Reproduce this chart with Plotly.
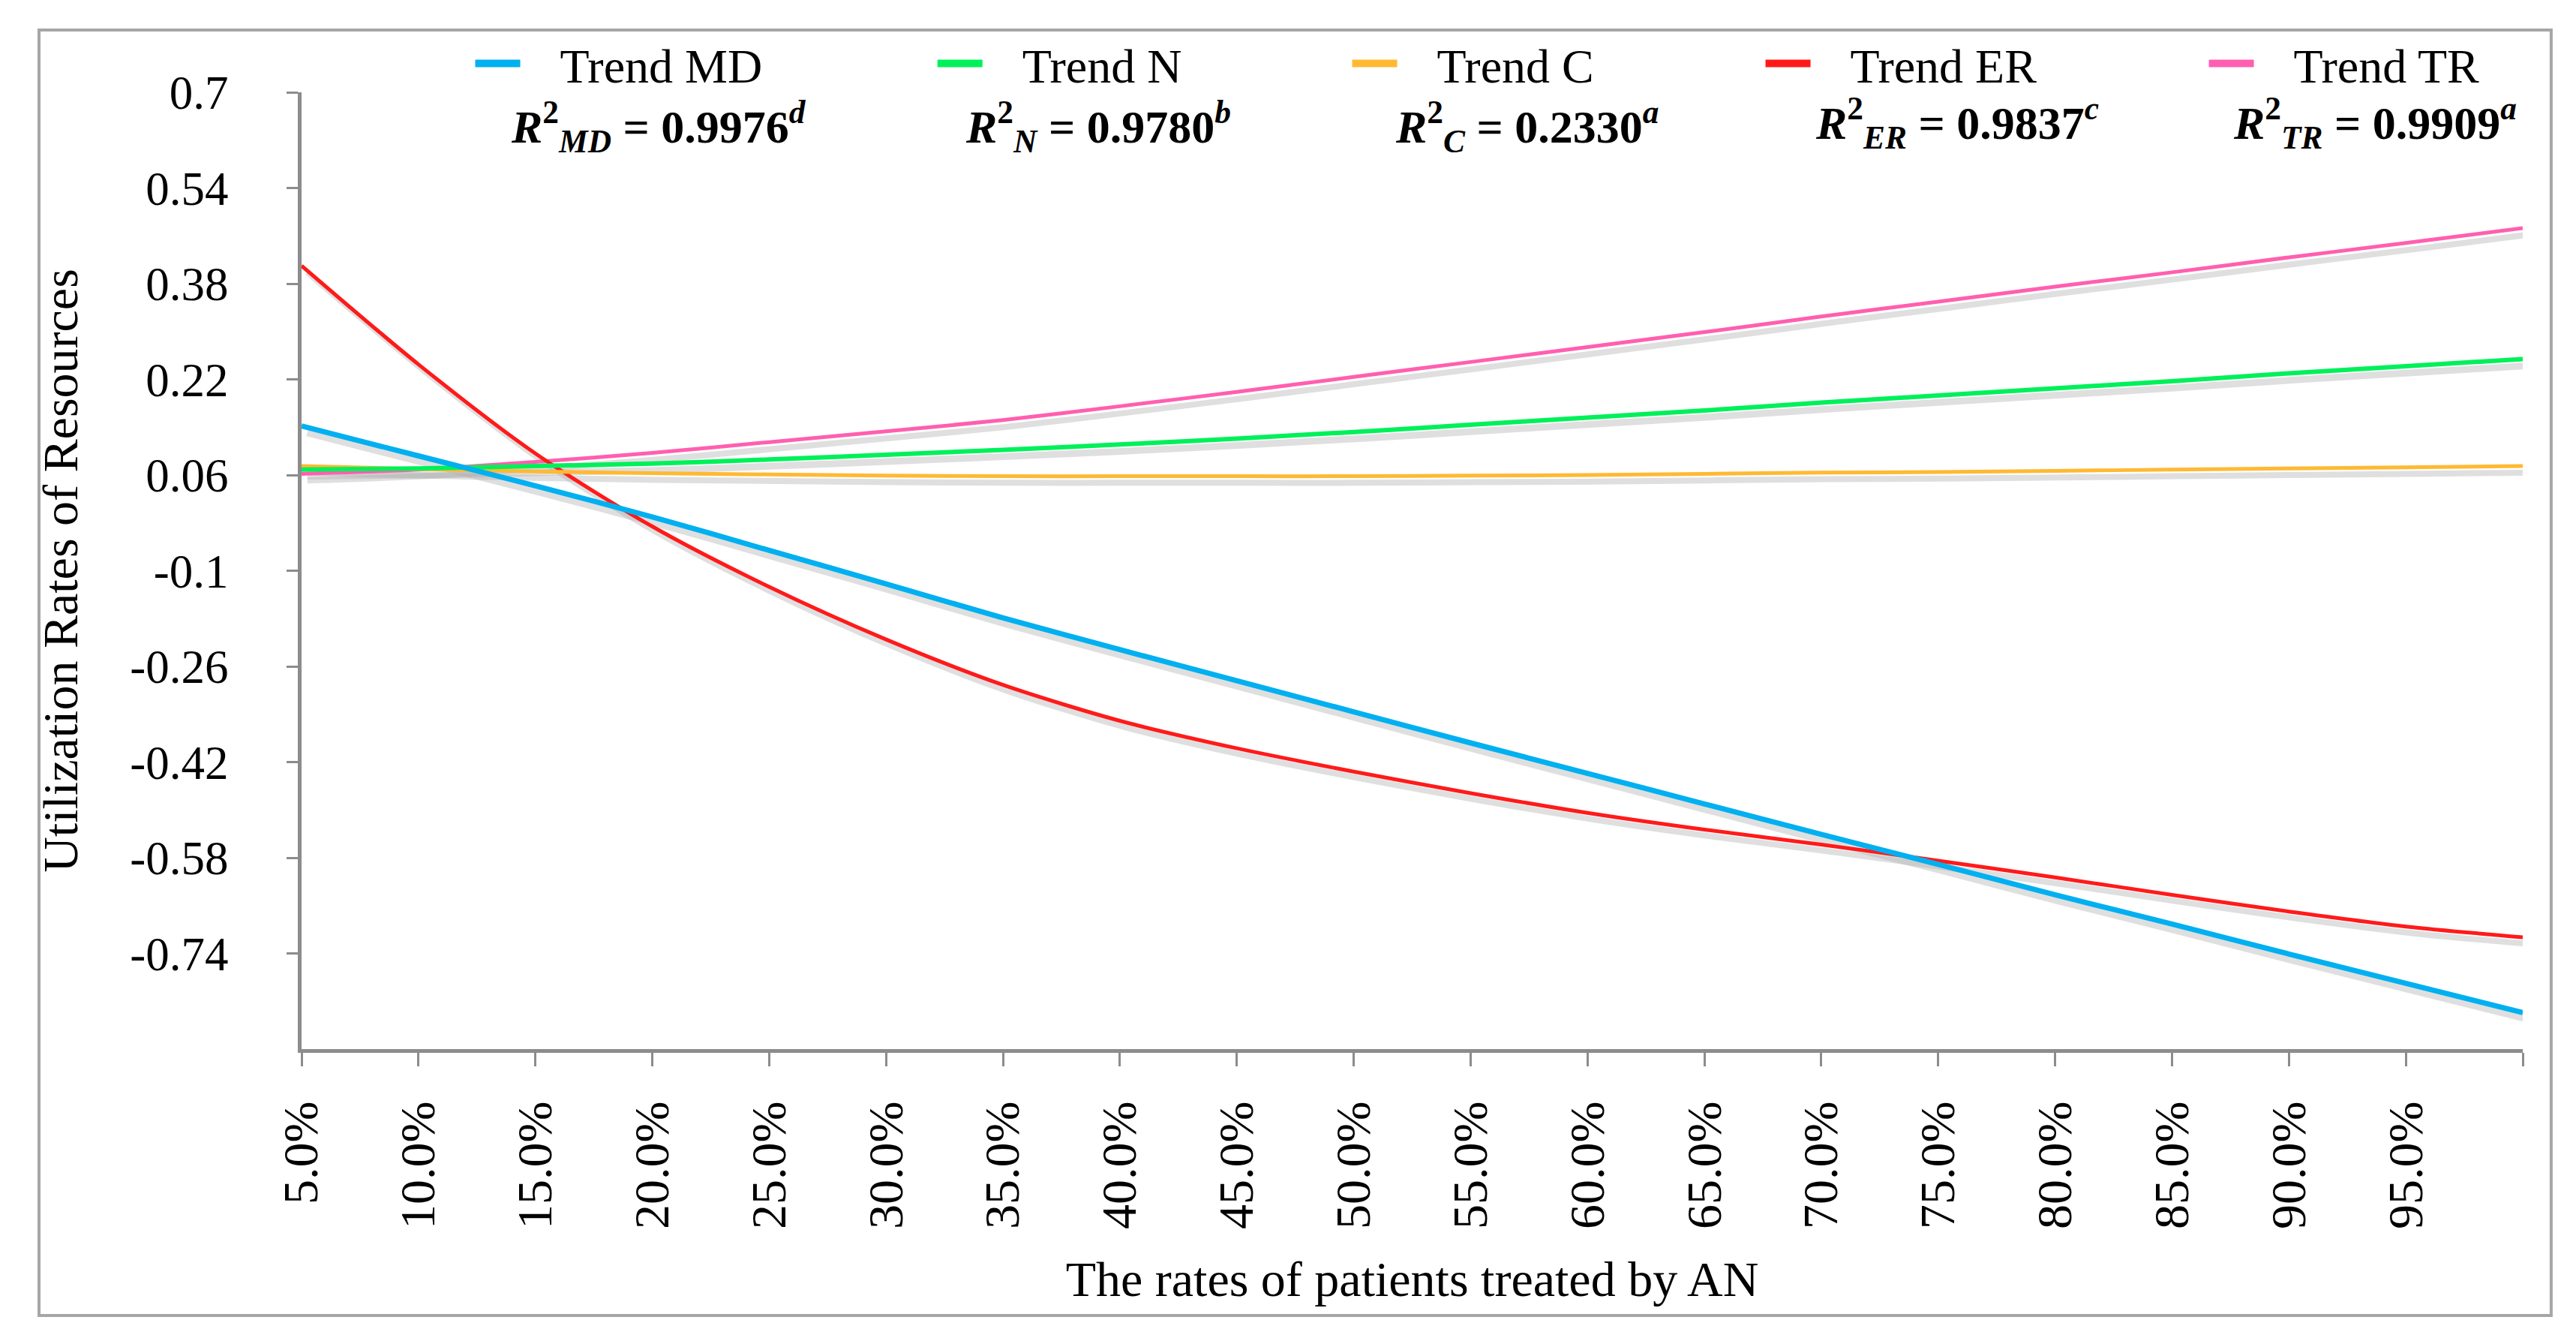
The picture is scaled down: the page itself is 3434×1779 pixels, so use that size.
import plotly.graph_objects as go

# ---------------- data ----------------
rates = [5, 10, 15, 20, 25, 30, 35, 40, 45, 50, 55, 60, 65, 70, 75, 80, 85, 90, 95, 100]
x_tick_labels = ["5.0%", "10.0%", "15.0%", "20.0%", "25.0%", "30.0%", "35.0%", "40.0%",
                 "45.0%", "50.0%", "55.0%", "60.0%", "65.0%", "70.0%", "75.0%", "80.0%",
                 "85.0%", "90.0%", "95.0%", ""]

trend_md = [0.142, 0.092, 0.042, -0.010, -0.066, -0.122, -0.179, -0.232, -0.284, -0.336,
            -0.388, -0.439, -0.490, -0.541, -0.591, -0.642, -0.691, -0.741, -0.790, -0.839]
trend_n = [0.069, 0.071, 0.075, 0.079, 0.086, 0.094, 0.102, 0.111, 0.121, 0.132,
           0.144, 0.156, 0.168, 0.181, 0.193, 0.205, 0.217, 0.230, 0.242, 0.254]
trend_c = [0.075, 0.070, 0.066, 0.063, 0.061, 0.059, 0.058, 0.058, 0.058, 0.058,
           0.059, 0.060, 0.062, 0.064, 0.065, 0.067, 0.069, 0.071, 0.073, 0.075]
trend_er = [0.410, 0.245, 0.096, -0.026, -0.127, -0.215, -0.291, -0.351, -0.397, -0.436,
            -0.472, -0.505, -0.533, -0.558, -0.585, -0.613, -0.642, -0.670, -0.695, -0.713]
trend_tr = [0.062, 0.069, 0.082, 0.097, 0.115, 0.133, 0.152, 0.175, 0.199, 0.224,
            0.249, 0.274, 0.299, 0.325, 0.350, 0.375, 0.399, 0.424, 0.448, 0.473]

y_tick_values = [0.7, 0.54, 0.38, 0.22, 0.06, -0.1, -0.26, -0.42, -0.58, -0.74]
y_tick_labels = ["0.7", "0.54", "0.38", "0.22", "0.06", "-0.1", "-0.26", "-0.42", "-0.58", "-0.74"]

series_names = ["Trend MD", "Trend N", "Trend C", "Trend ER", "Trend TR"]
r2_labels = [
    "<i>R</i><sup>2</sup><sub><i>MD</i></sub> = 0.9976<sup><i>d</i></sup>",
    "<i>R</i><sup>2</sup><sub><i>N</i></sub> = 0.9780<sup><i>b</i></sup>",
    "<i>R</i><sup>2</sup><sub><i>C</i></sub> = 0.2330<sup><i>a</i></sup>",
    "<i>R</i><sup>2</sup><sub><i>ER</i></sub> = 0.9837<sup><i>c</i></sup>",
    "<i>R</i><sup>2</sup><sub><i>TR</i></sub> = 0.9909<sup><i>a</i></sup>",
]

# ---------------- styling ----------------
series_values = [trend_md, trend_n, trend_c, trend_er, trend_tr]
colors = ["#00B0F0", "#00F05A", "#FFB932", "#FF1A1A", "#FF5FB0"]
widths = [7, 6, 5, 5, 5]
legend_x = [0.0765, 0.2846, 0.4713, 0.6574, 0.8570]
legend_keys = ["legend", "legend2", "legend3", "legend4", "legend5"]
r2_x = [0.1608, 0.3587, 0.5518, 0.7454, 0.9335]
r2_y = [0.9640, 0.9640, 0.9640, 0.9685, 0.9685]
NBSP = "\u00a0"

FONT = "Liberation Serif"
AXIS_COLOR = "#8C8C8C"

fig = go.Figure()

# soft drop shadows under the lines (Excel-style effect)
for vals, w in zip(series_values, widths):
    fig.add_trace(go.Scatter(
        x=[r + 0.25 for r in rates], y=[v - 0.011 for v in vals],
        mode="lines", line=dict(color="rgba(175,175,175,0.40)", width=w + 3, shape="spline", smoothing=0.8),
        showlegend=False, hoverinfo="skip"))

# the trend lines (MD drawn last so that it sits on top)
for i in reversed(range(5)):
    fig.add_trace(go.Scatter(
        x=rates, y=series_values[i], mode="lines", name=series_names[i],
        line=dict(color=colors[i], width=widths[i], shape="spline", smoothing=0.8),
        showlegend=False))

# legend entries (thick swatches, one legend box per entry)
for i in range(5):
    fig.add_trace(go.Scatter(
        x=[None], y=[None], mode="lines", name=NBSP * 3 + series_names[i],
        line=dict(color=colors[i], width=10), legend=legend_keys[i], showlegend=True))

layout_legends = {}
for i, key in enumerate(legend_keys):
    layout_legends[key] = dict(
        x=legend_x[i], y=1.0298, xanchor="left", yanchor="middle",
        orientation="h", itemwidth=60, bgcolor="rgba(0,0,0,0)", borderwidth=0,
        font=dict(family=FONT, size=64, color="black"))

annotations = []
for txt, ax, ay in zip(r2_labels, r2_x, r2_y):
    annotations.append(dict(
        text="<b>" + txt + "</b>", x=ax, y=ay, xref="paper", yref="paper",
        xanchor="center", yanchor="middle",
        showarrow=False, font=dict(family=FONT, size=62, color="black")))

fig.update_layout(
    width=3434, height=1779,
    margin=dict(l=394, r=79, t=115, b=389),
    paper_bgcolor="white", plot_bgcolor="white",
    annotations=annotations,
    shapes=[dict(type="rect", xref="paper", yref="paper",
                 x0=-0.1182, x1=1.0128, y0=-0.2784, y1=1.0651,
                 line=dict(color="#A6A6A6", width=4), fillcolor="rgba(0,0,0,0)", layer="below")],
    xaxis=dict(
        range=[5, 100], tickmode="array", tickvals=rates, ticktext=x_tick_labels,
        tickangle=-90, ticks="outside", ticklen=18, tickwidth=3, tickcolor=AXIS_COLOR,
        showline=True, linecolor=AXIS_COLOR, linewidth=5, showgrid=False, zeroline=False,
        tickfont=dict(family=FONT, size=66, color="black"), ticklabelstandoff=20,
        title=dict(text="The rates of patients treated by AN", standoff=45,
                   font=dict(family=FONT, size=66, color="black"))),
    yaxis=dict(
        range=[-0.9, 0.7], tickmode="array", tickvals=y_tick_values, ticktext=y_tick_labels,
        ticks="outside", ticklen=15, tickwidth=3, tickcolor=AXIS_COLOR,
        showline=True, linecolor=AXIS_COLOR, linewidth=5, showgrid=False, zeroline=False,
        tickfont=dict(family=FONT, size=63, color="black"), ticklabelstandoff=65,
        title=dict(text="Utilization Rates of Resources", standoff=50,
                   font=dict(family=FONT, size=66, color="black"))),
    **layout_legends,
)

fig.write_html("out.html")
